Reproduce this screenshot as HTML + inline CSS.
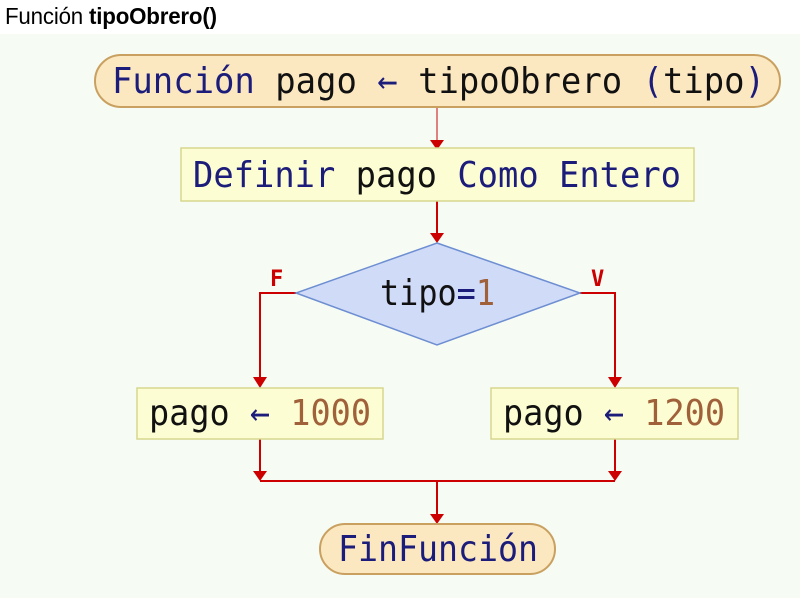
<!DOCTYPE html>
<html><head><meta charset="utf-8"><style>
html,body{margin:0;padding:0;background:#fff;width:800px;height:598px;overflow:hidden}
.h{position:absolute;left:5px;top:3px;font:23px "Liberation Sans",Arial,sans-serif;color:#000;letter-spacing:-0.2px;transform:scaleX(0.97);transform-origin:0 0}
svg{position:absolute;left:0;top:0}
text{font-family:"DejaVu Sans Mono","Liberation Mono",monospace;font-size:36px}
.k{fill:#1c1c7a}.i{fill:#111}.n{fill:#a0603a}
</style></head><body>
<svg width="800" height="598" xmlns="http://www.w3.org/2000/svg">
<rect x="0" y="34" width="800" height="564" fill="#f6fcf4"/>
<g stroke="#cc0000" stroke-width="2" fill="none">
<line x1="437" y1="107" x2="437" y2="142" stroke="#e08080"/>
<line x1="437" y1="201" x2="437" y2="234"/>
<polyline points="296,293 260,293 260,378"/>
<polyline points="580,293 615,293 615,378"/>
<line x1="260" y1="439" x2="260" y2="472"/>
<line x1="615" y1="439" x2="615" y2="472"/>
<line x1="260" y1="481" x2="615" y2="481"/>
<line x1="437" y1="481" x2="437" y2="514"/>
</g>
<g fill="#cc0000">
<polygon points="430,140 444,140 437,150"/>
<polygon points="430,233 444,233 437,243"/>
<polygon points="253,377 267,377 260,388"/>
<polygon points="608,377 622,377 615,388"/>
<polygon points="253,471 267,471 260,481"/>
<polygon points="608,471 622,471 615,481"/>
<polygon points="430,514 444,514 437,524"/>
</g>
<rect x="95" y="55" width="685" height="52" rx="26" fill="#fbe8c0" stroke="#c9a060" stroke-width="2"/>
<text x="112" y="93" textLength="653" lengthAdjust="spacingAndGlyphs"><tspan class="k">Función</tspan> <tspan class="i">pago</tspan> <tspan class="k">←</tspan> <tspan class="i">tipoObrero</tspan> <tspan class="k">(</tspan><tspan class="i">tipo</tspan><tspan class="k">)</tspan></text>
<rect x="181" y="148" width="513" height="53" fill="#fcfdd2" stroke="#d6d68e" stroke-width="1.5"/>
<text x="193" y="187" textLength="488" lengthAdjust="spacingAndGlyphs"><tspan class="k">Definir</tspan> <tspan class="i">pago</tspan> <tspan class="k">Como Entero</tspan></text>
<polygon points="437,243 580,293 437,345 296,293" fill="#cfdbf7" stroke="#6e8ed2" stroke-width="1.5"/>
<text x="380" y="305" textLength="115" lengthAdjust="spacingAndGlyphs"><tspan class="i">tipo</tspan><tspan class="k">=</tspan><tspan class="n">1</tspan></text>
<text x="270" y="286" style="font-size:22px;font-weight:bold" fill="#cc0000">F</text>
<text x="591" y="286" style="font-size:22px;font-weight:bold" fill="#cc0000">V</text>
<rect x="137" y="388" width="246" height="51" fill="#fcfdd2" stroke="#d6d68e" stroke-width="1.5"/>
<text x="149" y="425" textLength="222" lengthAdjust="spacingAndGlyphs"><tspan class="i">pago</tspan> <tspan class="k">←</tspan> <tspan class="n">1000</tspan></text>
<rect x="491" y="388" width="247" height="51" fill="#fcfdd2" stroke="#d6d68e" stroke-width="1.5"/>
<text x="503" y="425" textLength="222" lengthAdjust="spacingAndGlyphs"><tspan class="i">pago</tspan> <tspan class="k">←</tspan> <tspan class="n">1200</tspan></text>
<rect x="320" y="524" width="235" height="50" rx="25" fill="#fbe8c0" stroke="#c9a060" stroke-width="2"/>
<text x="338" y="561" textLength="200" lengthAdjust="spacingAndGlyphs" class="k">FinFunción</text>
</svg>
<div class="h">Función <b>tipoObrero()</b></div>
</body></html>
